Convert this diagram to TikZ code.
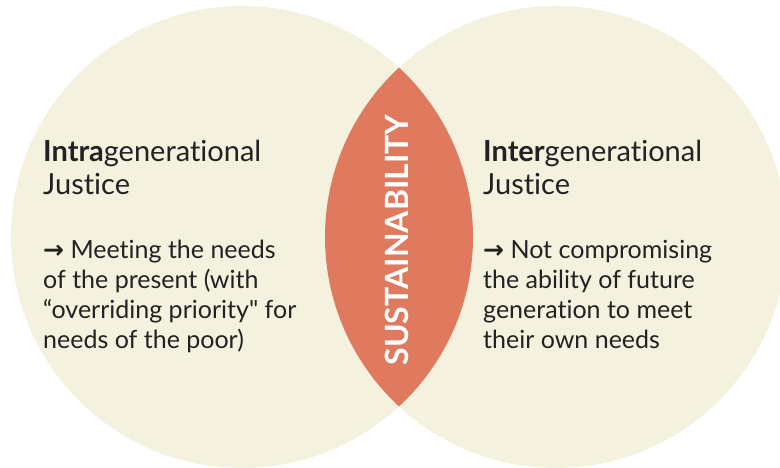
\documentclass[tikz,border=0pt]{standalone}
\usepackage{fontspec}
\setmainfont{Lato}[Ligatures=NoCommon]
\newfontfamily\arrowfont{DejaVu Sans}
\definecolor{cream}{HTML}{F4F1DE}
\definecolor{terra}{HTML}{E07A5F}
\definecolor{ink}{HTML}{222222}

\begin{document}
\begin{tikzpicture}
[x=1pt, y=-1pt,
circ/.style={fill=cream},
lens/.style={fill=terra},
heading/.style={anchor=base west, align=left, inner sep=0pt, text=ink,
  font=\fontsize{29}{33}\selectfont},
body/.style={anchor=base west, align=left, inner sep=0pt, text=ink,
  font=\fontsize{25}{30}\selectfont},
sustlabel/.style={rotate=90, text=white, inner sep=0pt,
  font=\fontsize{32}{32}\bfseries\selectfont}]

\useasboundingbox (0,0) rectangle (780,468);

% the two circles and their overlap
\coordinate (lc) at (242,237);
\coordinate (rc) at (556,237);
\fill[circ] (lc) circle[radius=231pt];
\fill[circ] (rc) circle[radius=231pt];
\begin{scope}
\clip (lc) circle[radius=231pt];
\fill[lens] (rc) circle[radius=231pt];
\end{scope}

\node[sustlabel] (sust) at (397,240) {SUSTAINABILITY};

% left side (anchored at the last line)
\node[heading] (intra) at (43,195) {\textbf{Intra}generational\\Justice};
\node[body] (intrabody) at (43,348) {{\arrowfont\bfseries →} Meeting the needs\\of the present (with\\“overriding priority\textquotedbl{} for\\needs of the poor)};

% right side
\node[heading] (inter) at (483,195) {\textbf{Inter}generational\\Justice};
\node[body] (interbody) at (483,348) {{\arrowfont\bfseries →} Not compromising\\the ability of future\\generation to meet\\their own needs};
\end{tikzpicture}
\end{document}
